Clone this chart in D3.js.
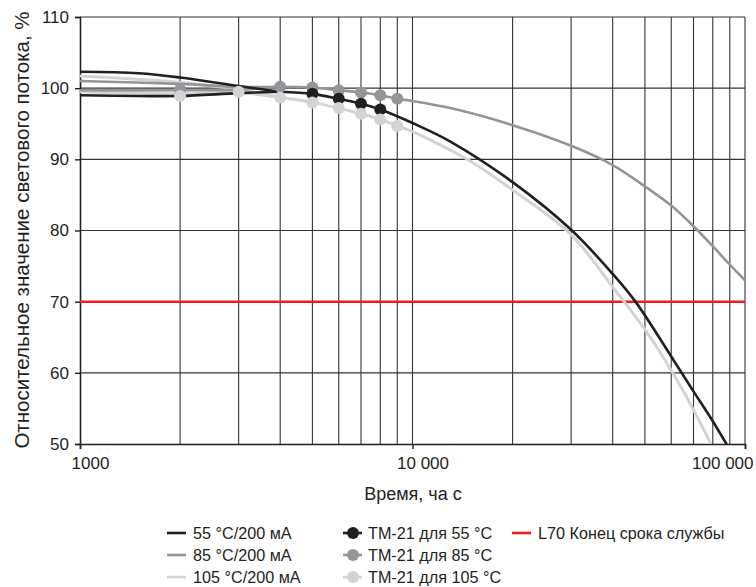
<!DOCTYPE html>
<html>
<head>
<meta charset="utf-8">
<script src="https://cdn.jsdelivr.net/npm/d3@7"></script>
<style>
  body { margin: 0; background: #fff; }
  svg { font-family: "Liberation Sans", Arial, sans-serif; }
</style>
</head>
<body>
<div id="chart"></div>
<script>
// measured curves (upper / lower) per temperature, hours -> %
var meas55Upper = [[1000, 102.3], [1500, 102.1], [2000, 101.5], [3000, 100.3], [4000, 99.5]];
var meas55Lower = [[1000, 99.0], [1500, 98.9], [2000, 98.9], [3000, 99.3], [4000, 99.5]];
var meas85Upper = [[1000, 101.0], [2000, 100.6], [3000, 100.2], [4000, 100.2]];
var meas85Lower = [[1000, 99.7], [2000, 99.7], [3000, 99.8], [4000, 100.2]];
var meas105Upper = [[1000, 101.7], [2000, 100.8], [3000, 99.8], [4000, 98.7]];
var meas105Lower = [[1000, 99.5], [2000, 99.2], [3000, 99.4], [4000, 98.7]];

// projections
var proj55 = [[4000, 99.5], [5000, 99.2], [6000, 98.5], [7000, 97.8], [8000, 97.0], [10000, 95.1],
  [13000, 92.5], [20000, 86.8], [30000, 80.1], [40000, 73.9], [47000, 69.9], [60000, 62.3],
  [70000, 57.4], [80000, 53.2], [89000, 49.6]];
var proj85 = [[4000, 100.2], [5000, 100.1], [6000, 99.7], [7000, 99.4], [8000, 99.0], [9000, 98.5],
  [10000, 98.2], [13000, 97.2], [20000, 94.8], [30000, 91.9], [40000, 89.2], [50000, 86.2],
  [60000, 83.5], [70000, 80.6], [80000, 77.8], [90000, 75.2], [100000, 73.0]];
var proj105 = [[3000, 99.5], [4000, 98.7], [5000, 98.0], [6000, 97.2], [7000, 96.4], [8000, 95.6],
  [9000, 94.7], [10000, 93.9], [13000, 91.3], [15000, 89.7], [20000, 85.7], [30000, 79.4],
  [41000, 71.4], [50000, 66.1], [61000, 59.8], [70000, 54.8], [79000, 50.0]];

// TM-21 points
var tm55 = [[5000, 99.2], [6000, 98.5], [7000, 97.8], [8000, 97.0]];
var tm85 = [[2000, 99.8], [4000, 100.2], [5000, 100.1], [6000, 99.7], [7000, 99.4], [8000, 99.0], [9000, 98.5]];
var tm105 = [[2000, 98.9], [3000, 99.5], [4000, 98.7], [5000, 98.0], [6000, 97.2], [7000, 96.4], [8000, 95.6], [9000, 94.7]];

var l70 = 70;
var yTicks = [50, 60, 70, 80, 90, 100, 110];
var xLabels = [1000, 10000, 100000];

(function(d3) {
  'use strict';

  var width = 756, height = 587;
  var mLeft = 80, mRight = 745, mTop = 17, mBottom = 444;

  var cBlack = '#231f20', cGray = '#939598', cLight = '#d1d3d4', cRed = '#ed1c24';

  var svg = d3.select('#chart').append('svg')
    .attr('width', width)
    .attr('height', height);

  var x = d3.scaleLog().domain([1000, 100000]).range([mLeft, mRight]);
  var y = d3.scaleLinear().domain([50, 110]).range([mBottom, mTop]);

  svg.append('clipPath').attr('id', 'clip')
    .append('rect').attr('x', mLeft).attr('y', mTop)
    .attr('width', mRight - mLeft).attr('height', mBottom - mTop);

  // grid
  var grid = svg.append('g');
  var vTicks = x.ticks().filter(function(d) { return d > 1000; });
  grid.selectAll('.v').data(vTicks).enter().append('line')
    .attr('x1', function(d) { return x(d); }).attr('x2', function(d) { return x(d); })
    .attr('y1', mTop).attr('y2', mBottom)
    .attr('stroke', '#333').attr('stroke-width', 1.1);
  grid.selectAll('.h').data(yTicks.filter(function(d) { return d > 50; })).enter().append('line')
    .attr('x1', mLeft).attr('x2', mRight)
    .attr('y1', function(d) { return y(d); }).attr('y2', function(d) { return y(d); })
    .attr('stroke', '#333').attr('stroke-width', 1.1);

  // axes
  var yAxis = svg.append('g')
    .attr('transform', 'translate(' + mLeft + ',0)')
    .call(d3.axisLeft(y).tickValues(yTicks).tickSize(5).tickPadding(6));
  var xAxis = svg.append('g')
    .attr('transform', 'translate(0,' + mBottom + ')')
    .call(d3.axisBottom(x).tickValues(xLabels).tickSize(5).tickPadding(8)
      .tickFormat(function(d) { return d === 1000 ? '1000' : d3.format(',')(d).replace(/,/g, ' '); }));
  [yAxis, xAxis].forEach(function(a) {
    a.select('.domain').attr('stroke', cBlack).attr('stroke-width', 1.6);
    a.selectAll('.tick line').attr('stroke', cBlack).attr('stroke-width', 1.4);
    a.selectAll('.tick text').attr('fill', cBlack).style('font-size', '17px');
  });
  xAxis.selectAll('.tick text').attr('dx', 10);
  // last label sits inside the page
  xAxis.selectAll('.tick text').filter(function(d) { return d === 100000; })
    .attr('text-anchor', 'end').attr('dx', 8);

  // L70
  svg.append('line')
    .attr('x1', mLeft).attr('x2', mRight)
    .attr('y1', y(l70)).attr('y2', y(l70))
    .attr('stroke', cRed).attr('stroke-width', 2.5);

  var line = d3.line()
    .x(function(d) { return x(d[0]); })
    .y(function(d) { return y(d[1]); })
    .curve(d3.curveCatmullRom.alpha(0.5));

  var plot = svg.append('g').attr('clip-path', 'url(#clip)');
  var curves = [
    [meas105Upper, cLight], [meas105Lower, cLight], [proj105, cLight],
    [meas85Upper, cGray], [meas85Lower, cGray], [proj85, cGray],
    [meas55Upper, cBlack], [meas55Lower, cBlack], [proj55, cBlack]
  ];
  curves.forEach(function(c) {
    plot.append('path').datum(c[0])
      .attr('d', line)
      .attr('fill', 'none')
      .attr('stroke', c[1])
      .attr('stroke-width', c[1] === cLight ? 3 : 2.6);
  });

  [[tm85, cGray], [tm55, cBlack], [tm105, cLight]].forEach(function(s) {
    plot.selectAll(null).data(s[0]).enter().append('circle')
      .attr('cx', function(d) { return x(d[0]); })
      .attr('cy', function(d) { return y(d[1]); })
      .attr('r', 6)
      .attr('fill', s[1]);
  });

  // titles
  svg.append('text')
    .attr('x', 413).attr('y', 500)
    .attr('text-anchor', 'middle')
    .style('font-size', '18px').attr('fill', cBlack)
    .text('Время, ча с');
  svg.append('text')
    .attr('transform', 'translate(29,' + 230 + ') rotate(-90)')
    .attr('text-anchor', 'middle')
    .style('font-size', '20.5px').attr('fill', cBlack)
    .text('Относительное значение светового потока, %');

  // legend
  var legendItems = [
    { label: '55 °C/200 мА', color: cBlack, dot: false, col: 0, row: 0 },
    { label: '85 °C/200 мА', color: cGray, dot: false, col: 0, row: 1 },
    { label: '105 °C/200 мА', color: cLight, dot: false, col: 0, row: 2 },
    { label: 'ТМ-21 для 55 °C', color: cBlack, dot: true, col: 1, row: 0 },
    { label: 'ТМ-21 для 85 °C', color: cGray, dot: true, col: 1, row: 1 },
    { label: 'ТМ-21 для 105 °C', color: cLight, dot: true, col: 1, row: 2 },
    { label: 'L70 Конец срока службы', color: cRed, dot: false, col: 2, row: 0 }
  ];
  var colX = [167, 343, 512];
  var legend = svg.selectAll('.legend').data(legendItems).enter().append('g')
    .attr('transform', function(d) { return 'translate(' + colX[d.col] + ',' + (533 + d.row * 22) + ')'; });
  legend.append('line')
    .attr('x1', 0).attr('x2', 19).attr('y1', 0).attr('y2', 0)
    .attr('stroke', function(d) { return d.color; })
    .attr('stroke-width', 2.6);
  legend.filter(function(d) { return d.dot; }).append('circle')
    .attr('cx', 10).attr('cy', 0).attr('r', 6)
    .attr('fill', function(d) { return d.color; });
  legend.append('text')
    .attr('x', function(d) { return d.dot ? 25 : 26; }).attr('y', 5.5)
    .style('font-size', '16.2px').attr('fill', cBlack)
    .text(function(d) { return d.label; });
})(window.d3);
</script>
</body>
</html>
